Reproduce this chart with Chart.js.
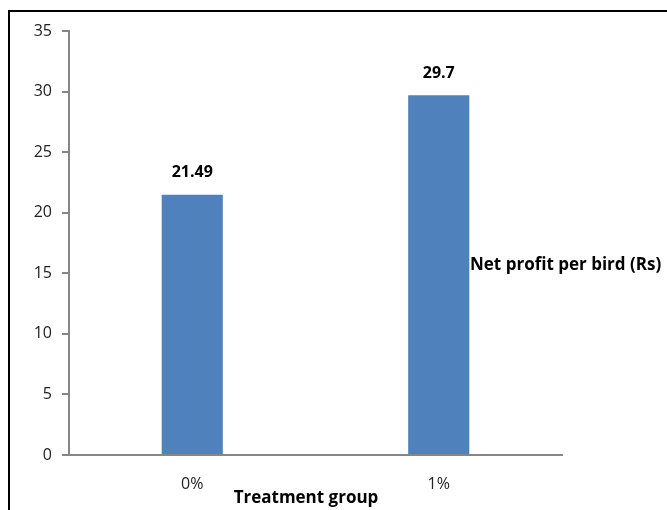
<!DOCTYPE html>
<html>
<head>
<meta charset="utf-8">
<script src="https://cdn.jsdelivr.net/npm/chart.js@4"></script>
<style>
  body { margin: 0; background: #fff; }
  canvas { display: block; }
</style>
</head>
<body>
<canvas id="profitChart" width="667" height="510"></canvas>
<script>
// data
const groups = ['0%', '1%'];
const netProfit = [21.49, 29.7];
const seriesName = 'Net profit per bird (Rs)';
const xTitle = 'Treatment group';

const FONT = "'Open Sans', 'Liberation Sans', sans-serif";

// frame around the whole picture (left + top only visible)
const framePlugin = {
    id: 'frame',
    beforeDraw(chart) {
        const c = chart.ctx;
        c.save();
        c.strokeStyle = '#000';
        c.lineWidth = 2;
        c.beginPath();
        c.moveTo(9, 510);
        c.lineTo(9, 11);
        c.lineTo(667, 11);
        c.stroke();
        c.restore();
    }
};

// value labels above bars, series name on the right, axis title below
const labelPlugin = {
    id: 'labels',
    afterDatasetsDraw(chart) {
        const c = chart.ctx;
        const meta = chart.getDatasetMeta(0);
        c.save();
        c.font = "bold 16px " + FONT;
        c.fillStyle = '#000';
        c.textAlign = 'center';
        c.textBaseline = 'middle';
        meta.data.forEach((bar, i) => {
            c.fillText(String(netProfit[i]), bar.x, bar.y - 22);
        });
        c.font = "bold 17px " + FONT;
        c.fillText(xTitle, 306, 498);
        c.textAlign = 'left';
        c.fillText(seriesName, 470, 265);
        c.restore();
    }
};

new Chart(document.getElementById('profitChart').getContext('2d'), {
    type: 'bar',
    data: {
        labels: groups,
        datasets: [{
            label: seriesName,
            data: netProfit,
            backgroundColor: '#4F81BD',
            barPercentage: 0.5,
            categoryPercentage: 0.496
        }]
    },
    options: {
        responsive: false,
        animation: false,
        layout: { padding: { left: 0, right: 105, top: 31, bottom: 0 } },
        plugins: {
            legend: { display: false },
            tooltip: { enabled: false }
        },
        scales: {
            x: {
                grid: { display: false },
                border: { display: true, color: '#868686', width: 2 },
                ticks: { color: '#222', font: { family: FONT, size: 16 }, padding: 12 },
                afterFit(scale) { scale.height = 55; }
            },
            y: {
                min: 0,
                max: 35,
                ticks: { stepSize: 5, color: '#222', font: { family: FONT, size: 16 }, padding: 10 },
                grid: {
                    drawOnChartArea: false,
                    drawTicks: true,
                    tickLength: 7,
                    color: '#868686',
                    lineWidth: 2
                },
                border: { display: true, color: '#868686', width: 2 },
                afterFit(scale) { scale.width = 69; }
            }
        }
    },
    plugins: [framePlugin, labelPlugin]
});
</script>
</body>
</html>
